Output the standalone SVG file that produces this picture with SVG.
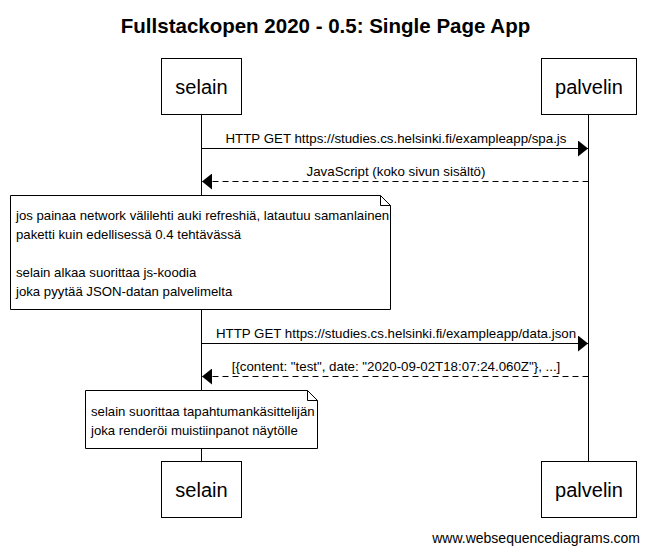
<svg xmlns="http://www.w3.org/2000/svg" width="650" height="552" viewBox="0 0 650 552">
<style>
text{font-family:"Liberation Sans",Arial,sans-serif;fill:#000}
.title{font-size:20.5px;font-weight:bold}
.part{font-size:20px}
.msg{font-size:13.3px}
.note{font-size:13.2px}
.foot{font-size:14px}
.box{fill:#fff;stroke:#000;stroke-width:1}
.life{stroke:#000;stroke-width:1}
.solid{stroke:#000;stroke-width:1;fill:none}
.dash{stroke:#000;stroke-width:1;fill:none;stroke-dasharray:6,4}
</style>
<defs>
<marker id="ah" markerUnits="userSpaceOnUse" markerWidth="12" markerHeight="16" refX="10" refY="8" orient="auto">
<polygon points="0,0 10,8 0,16" fill="#000"/>
</marker>
</defs>
<rect width="650" height="552" fill="#fff"/>
<text class="title" x="325.5" y="33" text-anchor="middle">Fullstackopen 2020 - 0.5: Single Page App</text>
<g id="lifelines">
<line class="life" x1="201.5" y1="114" x2="201.5" y2="461"/>
<line class="life" x1="588.5" y1="114" x2="588.5" y2="461"/>
</g>
<g id="connectors">
<line class="solid" x1="201.5" y1="148.5" x2="588" y2="148.5" marker-end="url(#ah)"/>
<text class="msg" x="396" y="143" text-anchor="middle">HTTP GET https://studies.cs.helsinki.fi/exampleapp/spa.js</text>
<line class="dash" x1="588.5" y1="181.5" x2="202" y2="181.5" marker-end="url(#ah)"/>
<text class="msg" x="396" y="176" text-anchor="middle">JavaScript (koko sivun sisältö)</text>
<line class="solid" x1="201.5" y1="343.5" x2="588" y2="343.5" marker-end="url(#ah)"/>
<text class="msg" x="396" y="338" text-anchor="middle">HTTP GET https://studies.cs.helsinki.fi/exampleapp/data.json</text>
<line class="dash" x1="588.5" y1="376.5" x2="202" y2="376.5" marker-end="url(#ah)"/>
<text class="msg" x="396" y="371" text-anchor="middle">[{content: "test", date: "2020-09-02T18:07:24.060Z"}, ...]</text>
</g>
<g id="note1">
<path class="box" d="M10.5,195.5 H380.5 L390.5,205.5 V309.5 H10.5 Z"/>
<path class="solid" d="M380.5,195.5 V205.5 H390.5"/>
<text class="note" x="16" y="220">jos painaa network välilehti auki refreshiä, latautuu samanlainen</text>
<text class="note" x="16" y="239">paketti kuin edellisessä 0.4 tehtävässä</text>
<text class="note" x="16" y="277">selain alkaa suorittaa js-koodia</text>
<text class="note" x="16" y="296">joka pyytää JSON-datan palvelimelta</text>
</g>
<g id="note2">
<path class="box" d="M85.5,390.5 H307.5 L317.5,400.5 V448.5 H85.5 Z"/>
<path class="solid" d="M307.5,390.5 V400.5 H317.5"/>
<text class="note" x="91" y="416">selain suorittaa tapahtumankäsittelijän</text>
<text class="note" x="91" y="435">joka renderöi muistiinpanot näytölle</text>
</g>
<g id="selain-top">
<rect class="box" x="161.5" y="58.5" width="80" height="56"/>
<text class="part" x="201.5" y="94" text-anchor="middle">selain</text>
</g>
<g id="palvelin-top">
<rect class="box" x="541.5" y="58.5" width="95" height="56"/>
<text class="part" x="589" y="94" text-anchor="middle">palvelin</text>
</g>
<g id="selain-bottom">
<rect class="box" x="161.5" y="461.5" width="80" height="56"/>
<text class="part" x="201.5" y="497" text-anchor="middle">selain</text>
</g>
<g id="palvelin-bottom">
<rect class="box" x="541.5" y="461.5" width="95" height="56"/>
<text class="part" x="589" y="497" text-anchor="middle">palvelin</text>
</g>
<text class="foot" x="640" y="543" text-anchor="end">www.websequencediagrams.com</text>
</svg>
